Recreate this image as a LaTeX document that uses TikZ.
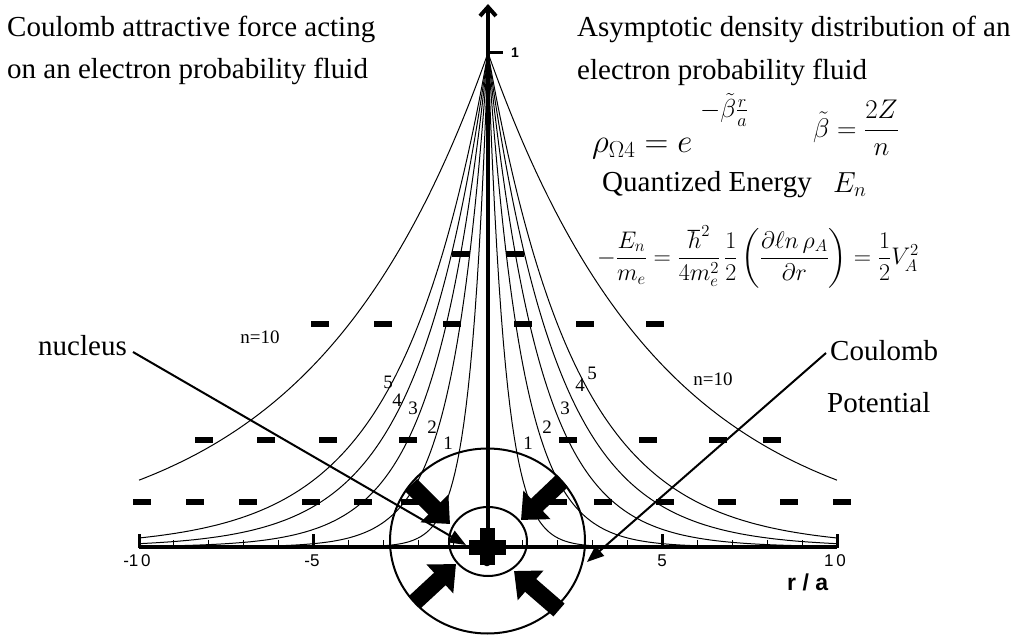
\RequirePackage{fix-cm}
\documentclass[tikz,border=0pt]{standalone}
\usepackage{amsmath}
\usepackage{fontspec}
\setmainfont{Liberation Serif}
\newfontfamily\arial{Liberation Sans}
\usetikzlibrary{arrows.meta}
\begin{document}
\begin{tikzpicture}[x=1pt,y=-1pt,
  txt/.style={inner sep=0pt, anchor=base west, font=\fontsize{29}{35}\selectfont},
  small/.style={inner sep=0pt, font=\fontsize{19}{22}\selectfont},
  ticklab/.style={inner sep=0pt, font=\arial\fontsize{17}{20}\selectfont},
  curve/.style={line width=1pt},
  axisline/.style={line width=3.5pt},
  majortick/.style={line width=3pt},
  minortick/.style={line width=1pt},
  dashbox/.style={fill=black, minimum width=18pt, minimum height=6pt, inner sep=0pt},
  leader/.style={line width=2pt, -{Triangle[length=17pt,width=13pt]}},
  force/.style={line width=17pt, -{Triangle[length=22pt,width=38pt]}},
  ring/.style={line width=2pt}]
\useasboundingbox (0,0) rectangle (1021,642);

% density curves rho = exp(-2 r / n)
\foreach \n in {1,2,3,4,5,10} {
  \draw[curve] plot[domain=0:10, samples=160] ({488+34.9*\x},{547-494*exp(-2*\x/\n)});
  \draw[curve] plot[domain=-10:0, samples=160] ({488+34.9*\x},{547-494*exp(2*\x/\n)});
}

% x axis
\draw[axisline] (139,547) -- (837,547);
\foreach \r in {-10,-5,0,5,10} \draw[majortick] ({488+34.9*\r},548) -- ++(0,-14);
\foreach \r in {-9,...,9} \draw[minortick] ({488+34.9*\r},547) -- ++(0,-7);
\node[ticklab] (tm10) at (137,561) {-1\,0};
\node[ticklab] (tm5) at (312,561) {-5};
\node[ticklab] (t0) at (487,561) {0};
\node[ticklab] (t5) at (662,561) {5};
\node[ticklab] (t10) at (835,561) {1\,0};
\node[inner sep=0pt, anchor=base west, font=\arial\bfseries\fontsize{23}{26}\selectfont] (ra) at (787,590) {r / a};

% y axis
\coordinate (yorig) at (488,547);
\coordinate (ytop) at (488,4);
\draw[line width=4pt, -{Straight Barb[length=9pt,width=16pt]}] (yorig) -- (ytop);
\draw[majortick] (488,53) -- (503,53);
\node[inner sep=0pt, font=\arial\bfseries\fontsize{14}{16}\selectfont] (yone) at (515,53) {1};

% negative charge marks
\foreach \x in {461,515} \node[dashbox] at (\x,254) {};
\foreach \x in {320,383,452,523,585,655} \node[dashbox] at (\x,324) {};
\foreach \x in {204,266,328,408,568,648,718,772} \node[dashbox] at (\x,440) {};
\foreach \x in {142,195,248,311,363,410,558,603,665,727,789,842} \node[dashbox] at (\x,502) {};

% curve labels
\node[small] (nl10) at (260,337) {n=10};
\node[small] (nr10) at (713,379) {n=10};
\node[small] (l5) at (388,382) {5};
\node[small] (l4) at (397,400) {4};
\node[small] (l3) at (413,408) {3};
\node[small] (l2) at (432,427) {2};
\node[small] (l1) at (448,443) {1};
\node[small] (r1) at (528,443) {1};
\node[small] (r2) at (547,427) {2};
\node[small] (r3) at (565,408) {3};
\node[small] (r4) at (580,385) {4};
\node[small] (r5) at (592,373) {5};

% rings
\draw[ring] (487.5,541) ellipse [x radius=97.5, y radius=92.5];
\draw[ring] (488,541.5) ellipse [x radius=39, y radius=34.5];

% attractive force arrows
\draw[force] (411,485) -- (450,524);
\draw[force] (562,481) -- (521,520);
\draw[force] (415,602) -- (456,564);
\draw[force] (559,610) -- (514,571);

% nucleus
\fill (469,539.5) rectangle (506,554.5);
\fill (480,528) rectangle (495,565);

% texts
\node[txt] (t1) at (7,37) {Coulomb attractive force acting};
\node[txt] (t2) at (7,79) {on an electron probability fluid};
\node[txt] (t3) at (577,37) {Asymptotic density distribution of an};
\node[txt] (t4) at (577,80) {electron probability fluid};
\node[inner sep=0pt, anchor=base west, font=\fontsize{33}{37}\selectfont] (rho) at (592,153) {$\rho_{\Omega 4} = e$};
\node[inner sep=0pt, anchor=west, font=\fontsize{26}{30}\selectfont] (expo) at (700,110) {$-\tilde{\beta}\frac{r}{a}$};
\node[inner sep=0pt, anchor=base west, font=\fontsize{27}{32}\selectfont] (beta) at (813,137) {$\tilde{\beta} = \dfrac{2Z}{n}$};
\node[txt] (qe) at (602,191) {Quantized Energy};
\node[inner sep=0pt, anchor=base west, font=\fontsize{29}{34}\selectfont] (en) at (833,192) {$E_n$};
\node[inner sep=0pt, anchor=west, font=\fontsize{24}{28}\selectfont] (eq) at (597,257) {$-\dfrac{E_n}{m_e} = \dfrac{\hbar^2}{4m_e^2}\,\dfrac{1}{2}\left(\dfrac{\partial \ell n\,\rho_A}{\partial r}\right) = \dfrac{1}{2}V_A^2$};

\node[txt] (nuc) at (38,355) {nucleus};
\node[txt] (cou) at (830,360) {Coulomb};
\node[txt] (pot) at (827,412) {Potential};

% leaders
\coordinate (nucStart) at (133,352);
\coordinate (nucTip) at (466,545);
\draw[leader] (nucStart) -- (nucTip);
\coordinate (couStart) at (826,353);
\coordinate (couTip) at (587,562);
\draw[leader] (couStart) -- (couTip);
\end{tikzpicture}
\end{document}
